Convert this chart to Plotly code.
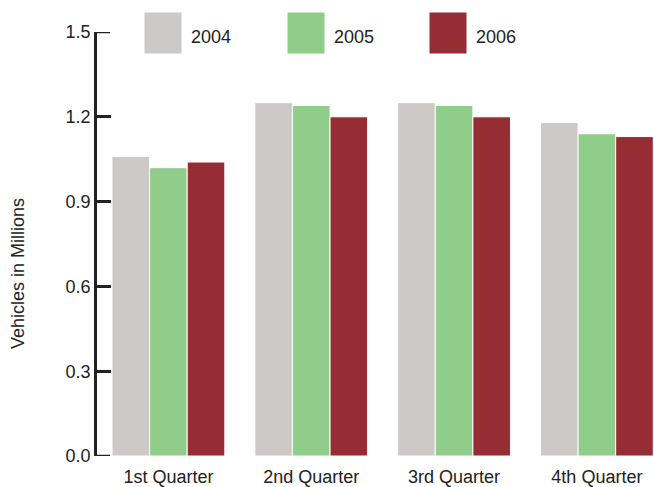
import plotly.graph_objects as go

categories = ["1st Quarter", "2nd Quarter", "3rd Quarter", "4th Quarter"]
series_names = ["2004", "2005", "2006"]
values_2004 = [1.06, 1.25, 1.25, 1.18]
values_2005 = [1.02, 1.24, 1.24, 1.14]
values_2006 = [1.04, 1.20, 1.20, 1.13]
colors = ["#CCC9C6", "#90CC8A", "#962D34"]
y_ticks = [0.0, 0.3, 0.6, 0.9, 1.2, 1.5]
y_tick_labels = ["0.0", "0.3", "0.6", "0.9", "1.2", "1.5"]

series_values = [values_2004, values_2005, values_2006]

W, H = 654, 487
PL, PR, PT, PB = 97, 654, 32, 456   # plot area in window pixels
ML, MT = PL, PT
MR = W - PR
MB = H - PB
pw = PR - PL
ph = PB - PT

def px_x(px):
    return (px - PL) / pw

def px_y(py):
    return (PB - py) / ph

FONT = "Liberation Sans, Arial, sans-serif"
TXT = "#222222"

fig = go.Figure()
for name, vals, col in zip(series_names, series_values, colors):
    fig.add_trace(go.Bar(
        x=categories, y=vals, name=name,
        marker=dict(color=col, line=dict(color="white", width=1)),
        showlegend=False,
    ))

shapes = []
annotations = []
legend_left = [144, 287, 429]
for i, (name, col) in enumerate(zip(series_names, colors)):
    x0 = legend_left[i]
    shapes.append(dict(type="rect", xref="paper", yref="paper",
                       x0=px_x(x0), x1=px_x(x0 + 38),
                       y0=px_y(54), y1=px_y(12),
                       fillcolor=col, line=dict(color="white", width=1)))
    annotations.append(dict(text=name, xref="paper", yref="paper",
                            x=px_x(x0 + 45), y=px_y(37),
                            xanchor="left", yanchor="middle", showarrow=False,
                            font=dict(size=18, color=TXT, family=FONT)))

# tick marks pointing into the plot from the y-axis line
for t in y_ticks:
    shapes.append(dict(type="line", xref="paper", yref="y",
                       x0=0, x1=px_x(110), y0=t, y1=t, layer="above",
                       line=dict(color=TXT, width=2.5)))

annotations.append(dict(text="Vehicles in Millions", xref="paper", yref="paper",
                        x=px_x(17.5), y=px_y(273.5), textangle=-90,
                        xanchor="center", yanchor="middle", showarrow=False,
                        font=dict(size=18, color=TXT, family=FONT)))

fig.update_layout(
    width=W, height=H,
    margin=dict(l=ML, r=MR, t=MT, b=MB, autoexpand=False),
    paper_bgcolor="white", plot_bgcolor="white",
    barmode="group", bargap=0.21, bargroupgap=0,
    font=dict(family=FONT, size=18, color=TXT),
    shapes=shapes, annotations=annotations,
    xaxis=dict(range=[-0.5, 3.4], showgrid=False, showline=False, ticks="",
               zeroline=False, tickfont=dict(size=18, color=TXT), automargin=False,
               ticklabelstandoff=8),
    yaxis=dict(range=[0, 1.5], tickvals=y_ticks, ticktext=y_tick_labels,
               showgrid=False, zeroline=False, showline=True, linecolor=TXT,
               linewidth=2.5, ticks="inside", ticklen=14, tickwidth=2.5,
               tickcolor=TXT, tickfont=dict(size=18, color=TXT), automargin=False),
)

fig.write_html("out.html", config={"displayModeBar": False},
               post_script="document.body.style.margin='0';")
